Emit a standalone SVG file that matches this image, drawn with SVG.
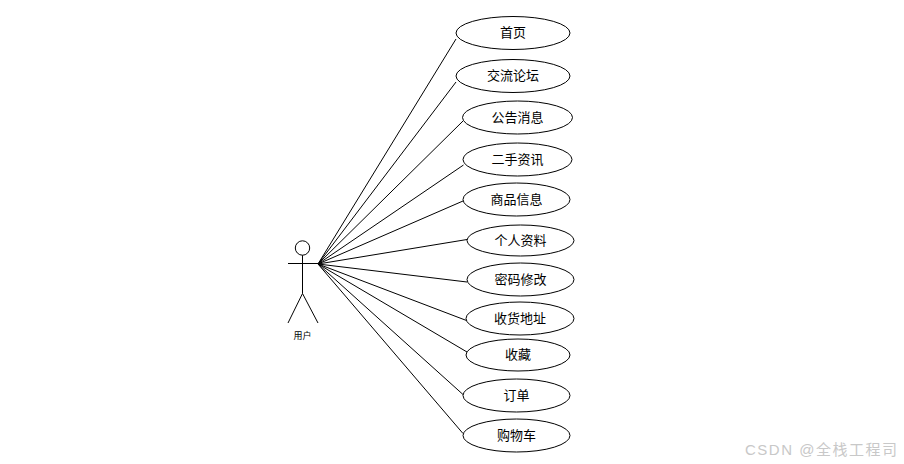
<svg xmlns="http://www.w3.org/2000/svg" width="904" height="464" viewBox="0 0 904 464">
<style>
.uc ellipse{fill:#fff;stroke:#000;stroke-width:1}
.uc text{font-family:"Noto Sans CJK SC","Liberation Sans",sans-serif;font-size:13px;fill:#000;text-anchor:middle;dominant-baseline:central}
.actor{fill:none;stroke:#000;stroke-width:1}
.conn line{stroke:#000;stroke-width:1}
</style>
<rect width="904" height="464" fill="#fff"/>
<g id="conn" class="conn">
<line x1="318" y1="264" x2="456" y2="39"/>
<line x1="318" y1="264" x2="456" y2="82"/>
<line x1="318" y1="264" x2="463" y2="121"/>
<line x1="318" y1="264" x2="463.5" y2="165"/>
<line x1="318" y1="264" x2="463" y2="201"/>
<line x1="318" y1="264" x2="467" y2="239.5"/>
<line x1="318" y1="264" x2="467" y2="282"/>
<line x1="318" y1="264" x2="466.5" y2="320.5"/>
<line x1="318" y1="264" x2="467" y2="352"/>
<line x1="318" y1="264" x2="463" y2="394.5"/>
<line x1="318" y1="264" x2="463" y2="433.5"/>
</g>
<g id="actor">
<circle class="actor" cx="302.5" cy="248" r="7.2"/>
<line class="actor" x1="288" y1="263.5" x2="318" y2="263.5"/>
<line class="actor" x1="302.5" y1="255.2" x2="302.5" y2="293.5"/>
<line class="actor" x1="302.5" y1="293.5" x2="288" y2="323"/>
<line class="actor" x1="302.5" y1="293.5" x2="318" y2="323"/>
<text x="302.5" y="335" font-family="Noto Sans CJK SC,Liberation Sans,sans-serif" font-size="9" text-anchor="middle" dominant-baseline="central">用户</text>
</g>
<g id="n1" class="uc"><ellipse cx="513" cy="33" rx="57" ry="16.5"/><text x="513" y="31.5">首页</text></g>
<g id="n2" class="uc"><ellipse cx="513" cy="76" rx="57" ry="16.5"/><text x="513" y="74.5">交流论坛</text></g>
<g id="n3" class="uc"><ellipse cx="517.5" cy="117.5" rx="55" ry="16.5"/><text x="517.5" y="116">公告消息</text></g>
<g id="n4" class="uc"><ellipse cx="517.5" cy="159.5" rx="54.5" ry="16.5"/><text x="517.5" y="158">二手资讯</text></g>
<g id="n5" class="uc"><ellipse cx="516.5" cy="199.5" rx="53.5" ry="16.5"/><text x="516.5" y="198">商品信息</text></g>
<g id="n6" class="uc"><ellipse cx="520.5" cy="240.5" rx="53.5" ry="15.5"/><text x="520.5" y="239">个人资料</text></g>
<g id="n7" class="uc"><ellipse cx="520.5" cy="279.5" rx="53.5" ry="16.5"/><text x="520.5" y="278">密码修改</text></g>
<g id="n8" class="uc"><ellipse cx="520" cy="318.5" rx="54" ry="16.5"/><text x="520" y="317">收货地址</text></g>
<g id="n9" class="uc"><ellipse cx="518" cy="355" rx="52" ry="16"/><text x="518" y="353.5">收藏</text></g>
<g id="n10" class="uc"><ellipse cx="516.5" cy="395.5" rx="53.5" ry="16.5"/><text x="516.5" y="394">订单</text></g>
<g id="n11" class="uc"><ellipse cx="516.5" cy="435.5" rx="53.5" ry="16.5"/><text x="516.5" y="434">购物车</text></g>
<text x="745" y="455" font-family="Liberation Sans,Noto Sans CJK SC,sans-serif" font-size="15" fill="#c8c8c8" textLength="152" lengthAdjust="spacing">CSDN @全栈工程司</text>
</svg>
